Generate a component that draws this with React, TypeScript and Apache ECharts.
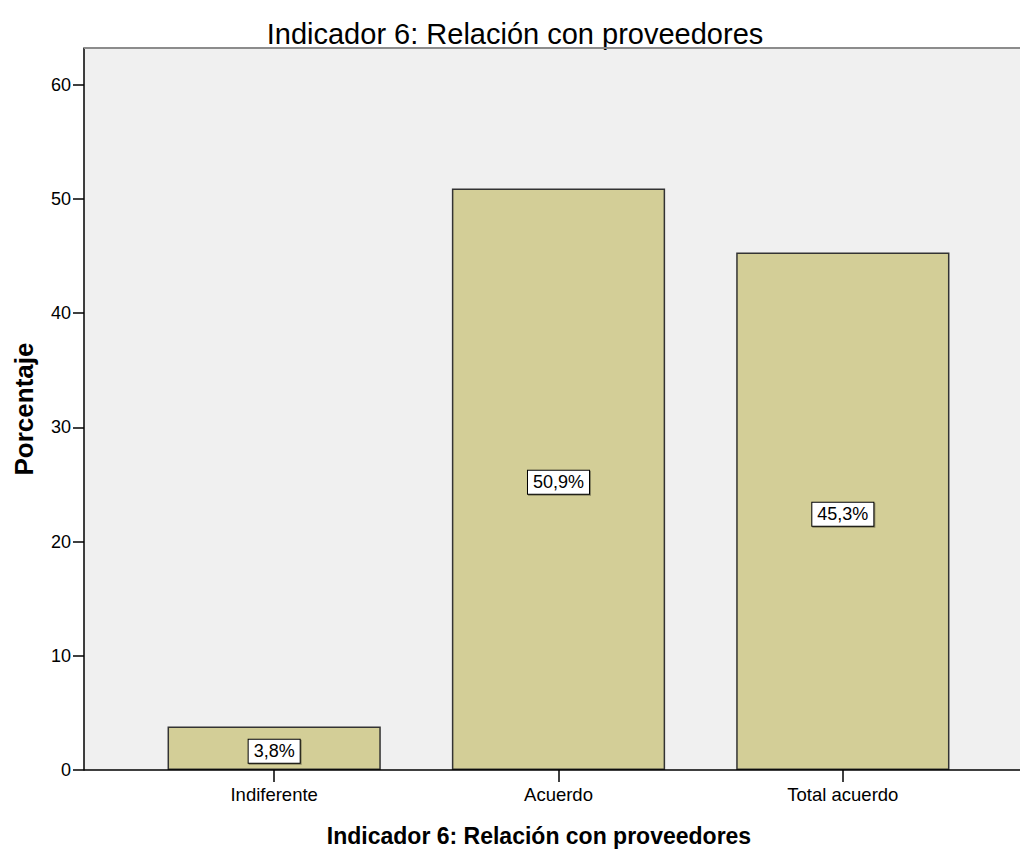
import React, { useEffect, useRef } from "react";
import * as echarts from "echarts";

const categories = ["Indiferente", "Acuerdo", "Total acuerdo"];
const percentages = [3.8, 50.9, 45.3];
const yTicks = [0, 10, 20, 30, 40, 50, 60];
const chartTitle = "Indicador 6: Relación con proveedores";
const xAxisTitle = "Indicador 6: Relación con proveedores";
const yAxisTitle = "Porcentaje";

const FONT = "'Liberation Sans', Arial, sans-serif";

export default function App() {
  const ref = useRef<HTMLDivElement>(null);
  useEffect(() => {
    if (!ref.current) return;
    const chart = echarts.init(ref.current, null, { renderer: "svg" });
    chart.setOption({
      animation: false,
      backgroundColor: "#ffffff",
      textStyle: { fontFamily: FONT },
      grid: {
        left: 132,
        right: 35,
        top: 48,
        bottom: 80,
        containLabel: false,
        outerBoundsMode: "none",
      },
      graphic: [
        {
          type: "rect",
          z: -10,
          silent: true,
          shape: { x: 84, y: 48, width: 936, height: 722 },
          style: { fill: "#f0f0f0" },
        },
        {
          type: "line",
          z: 10,
          silent: true,
          shape: { x1: 84, y1: 48, x2: 1020, y2: 48 },
          style: { stroke: "#8c8c8c", lineWidth: 2 },
        },
        {
          type: "line",
          z: 10,
          silent: true,
          shape: { x1: 84, y1: 770, x2: 1020, y2: 770 },
          style: { stroke: "#000000", lineWidth: 1.5 },
        },
        {
          type: "text",
          x: 515,
          y: 33.5,
          style: {
            text: chartTitle,
            fontFamily: FONT,
            fontSize: 29,
            fill: "#000",
            textAlign: "center",
            textVerticalAlign: "middle",
          },
        },
        {
          type: "text",
          x: 539,
          y: 835.5,
          style: {
            text: xAxisTitle,
            fontFamily: FONT,
            fontSize: 23,
            fontWeight: "bold",
            fill: "#000",
            textAlign: "center",
            textVerticalAlign: "middle",
          },
        },
      ],
      xAxis: {
        type: "category",
        data: categories,
        boundaryGap: true,
        axisLine: { show: false },
        axisTick: {
          show: true,
          alignWithLabel: true,
          length: 12,
          lineStyle: { color: "#000", width: 1.5 },
        },
        axisLabel: { color: "#000", fontSize: 18.5, margin: 15, fontFamily: FONT },
        splitLine: { show: false },
      },
      yAxis: {
        type: "value",
        min: 0,
        max: 63.2,
        interval: 10,
        offset: 48,
        name: yAxisTitle,
        nameLocation: "middle",
        nameRotate: 90,
        nameGap: 47,
        nameTextStyle: { color: "#000", fontSize: 26, fontWeight: "bold", fontFamily: FONT },
        axisLine: { show: true, lineStyle: { color: "#000", width: 1.5 } },
        axisTick: {
          show: true,
          length: 11,
          customValues: yTicks,
          lineStyle: { color: "#000", width: 1.5 },
        },
        axisLabel: {
          color: "#000",
          fontSize: 18,
          margin: 13,
          fontFamily: FONT,
          customValues: yTicks,
        },
        splitLine: { show: false },
      },
      series: [
        {
          type: "bar",
          data: percentages,
          barWidth: "75%",
          itemStyle: { color: "#d3ce97", borderColor: "#333333", borderWidth: 1.5 },
          label: {
            show: true,
            position: "inside",
            offset: [0, 3],
            formatter: (p: any) => String(p.value).replace(".", ",") + "%",
            color: "#000",
            fontSize: 18,
            fontFamily: FONT,
            lineHeight: 20,
            backgroundColor: "#ffffff",
            borderColor: "#000000",
            borderWidth: 1,
            padding: [2, 5, 1, 5],
            shadowColor: "rgba(0,0,0,0.35)",
            shadowBlur: 1,
            shadowOffsetX: 1,
            shadowOffsetY: 1,
          },
        },
      ],
    });
    return () => chart.dispose();
  }, []);
  return (
    <div
      ref={ref}
      style={{ position: "fixed", left: 0, top: 0, width: 1020, height: 850 }}
    />
  );
}
